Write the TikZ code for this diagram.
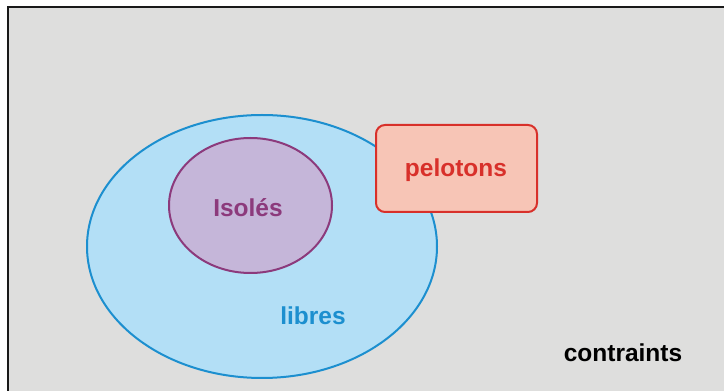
\documentclass[tikz,border=0pt]{standalone}
\usepackage{fontspec}
\setmainfont{Liberation Sans}
\usetikzlibrary{shapes.geometric}
\definecolor{fondgris}{HTML}{DEDEDD}
\definecolor{bleufond}{HTML}{B3DFF6}
\definecolor{bleutrait}{HTML}{1C8FCF}
\definecolor{violetfond}{HTML}{C5B6D9}
\definecolor{violettrait}{HTML}{8C3A7C}
\definecolor{rougefond}{HTML}{F7C5B6}
\definecolor{rougetrait}{HTML}{D8302A}
\begin{document}
\begin{tikzpicture}[x=1pt,y=1pt,
        every node/.style={font=\fontsize{24.5}{28}\selectfont\bfseries},
        ens/.style={ellipse, inner sep=0pt, line width=2pt},
        boite/.style={rectangle, rounded corners=9pt, inner sep=0pt, line width=2pt}]
     \useasboundingbox (0,0) rectangle (724,391);
     \fill[fondgris] (8,0) rectangle (724,384);
     \draw[line width=2.6pt, black!90] (8,0) -- (8,384) -- (724,384);
     \node[ens, fill=bleufond, draw=bleutrait, minimum width=350pt, minimum height=263pt] (libres) at (262,144.5) {};
     \node[ens, fill=violetfond, draw=violettrait, minimum width=163pt, minimum height=135pt] (isoles) at (250.5,185.5) {};
     \node[boite, fill=rougefond, draw=rougetrait, minimum width=161pt, minimum height=87pt] (pelotons) at (456.5,222.5) {};
     \node[text=violettrait] (tisoles) at (248,183) {Isolés};
     \node[text=rougetrait] (tpelotons) at (456,221) {pelotons};
     \node[text=bleutrait] (tlibres) at (313,75) {libres};
     \node[text=black] (tcontraints) at (623,38) {contraints};
\end{tikzpicture}
\end{document}
